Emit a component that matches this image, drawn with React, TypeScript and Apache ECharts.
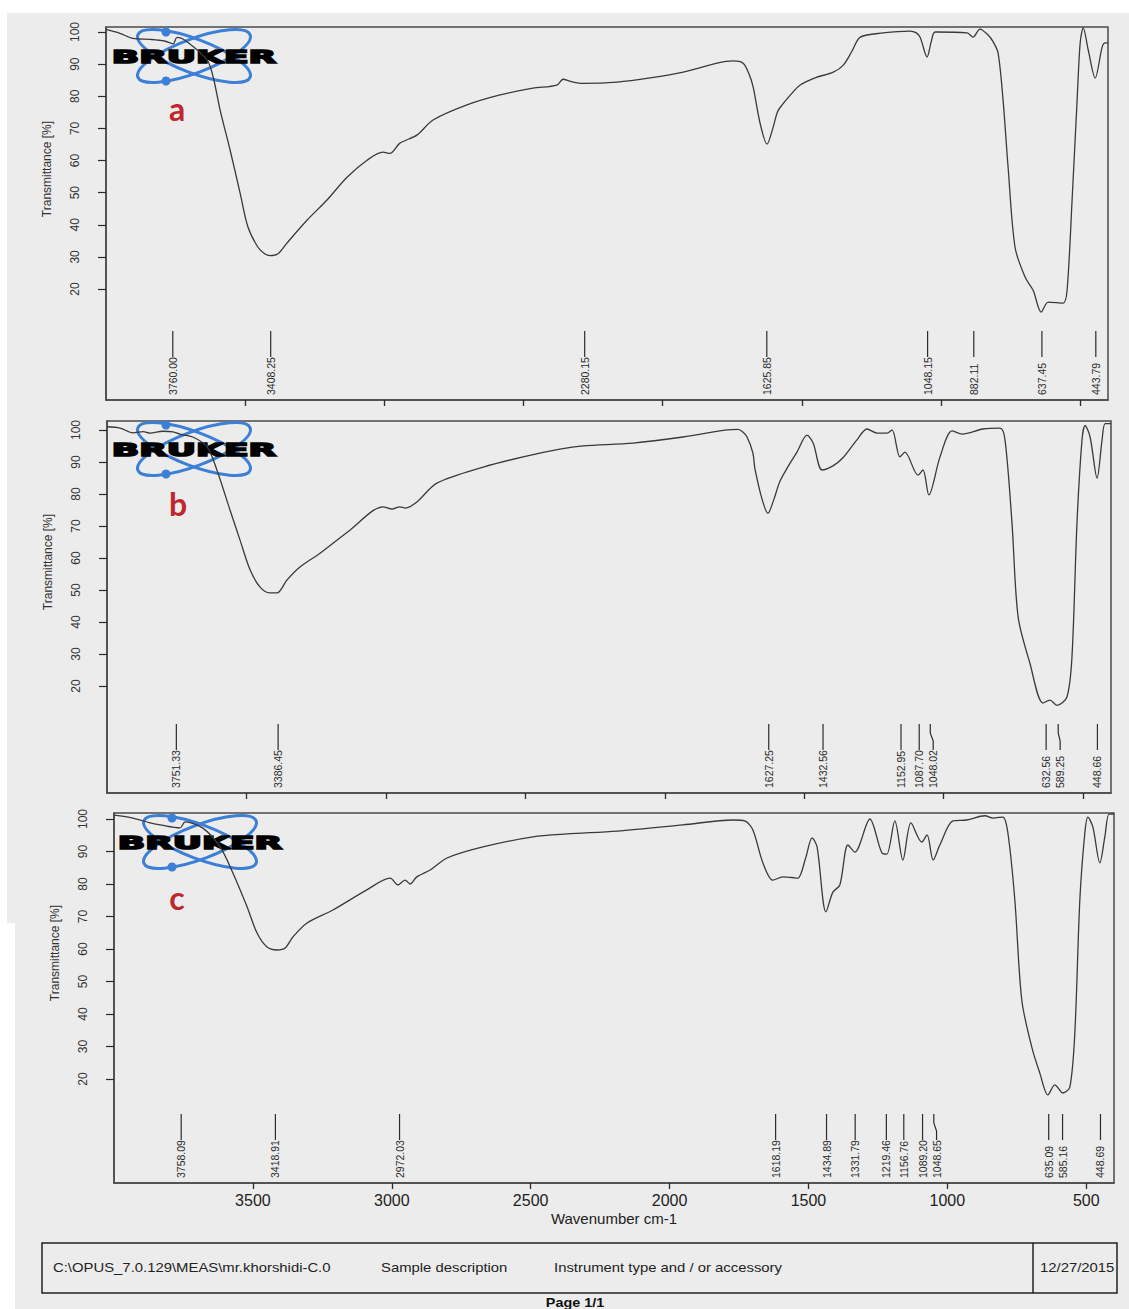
import React, { useEffect, useRef } from "react";
import * as echarts from "echarts";

// ---- Spectrum a ----
const waveA = [4000, 3950, 3903, 3842, 3790, 3759, 3745, 3709, 3637, 3615, 3590, 3554, 3518, 3490, 3454, 3430, 3411, 3382, 3350, 3278, 3206, 3134, 3062, 3005, 2980, 2944, 2883, 2825, 2703, 2584, 2466, 2380, 2358, 2330, 2286, 2164, 2045, 1926, 1805, 1747, 1711, 1690, 1675, 1650, 1625, 1603, 1589, 1578, 1540, 1506, 1450, 1387, 1351, 1320, 1290, 1208, 1111, 1090, 1075, 1050, 1035, 1021, 906, 885, 860, 830, 813, 795, 777, 759, 734, 698, 669, 640, 615, 561, 547, 529, 511, 500, 489, 471, 446, 421, 410, 400];
const transA = [100.8, 99.6, 98, 97.7, 97.2, 96.3, 98.3, 97, 91.3, 86, 75.7, 63.2, 49.8, 39.3, 33, 31, 30.4, 31, 34.3, 41.4, 47.7, 54.8, 60.1, 62.6, 62.2, 65.4, 67.9, 72.6, 77.3, 80.4, 82.5, 83.5, 85.3, 84.6, 84, 84.4, 85.7, 87.5, 90.3, 91, 90.3, 87, 82.9, 71.6, 65.1, 70.4, 74.8, 76.5, 80.5, 83.5, 85.8, 87.5, 89.7, 94, 98.4, 99.7, 100.3, 99.8, 98.4, 92.2, 97, 100, 99.7, 98.4, 100.9, 99, 97, 93.5, 78.8, 58, 33, 23.7, 19.6, 12.8, 15.9, 15.6, 19.6, 47.7, 78.8, 96.6, 101.3, 94.4, 85.7, 95.3, 96.6, 96.6];
const peaksA = [3760.0, 3408.25, 2280.15, 1625.85, 1048.15, 882.11, 637.45, 443.79];

// ---- Spectrum b ----
const waveB = [4000, 3953, 3907, 3870, 3846, 3800, 3763, 3738, 3692, 3641, 3606, 3559, 3523, 3487, 3451, 3416, 3390, 3355, 3308, 3236, 3129, 3010, 2978, 2950, 2930, 2889, 2817, 2651, 2508, 2376, 2293, 2114, 1935, 1777, 1738, 1720, 1705, 1684, 1677, 1650, 1630, 1610, 1587, 1555, 1526, 1490, 1468, 1436, 1397, 1361, 1311, 1275, 1239, 1203, 1185, 1157, 1139, 1092, 1074, 1053, 1013, 970, 934, 859, 798, 780, 755, 733, 691, 644, 619, 594, 558, 540, 522, 504, 493, 475, 450, 432, 421, 400];
const transB = [101, 100.6, 99.1, 99.5, 99, 99.6, 99.4, 98.7, 97.8, 94.7, 87.5, 75, 65.6, 56.3, 50.9, 49.1, 49.1, 53.1, 57.2, 61.5, 68.7, 76, 75.3, 76, 75.6, 77.5, 83.4, 88.4, 91.6, 94, 95, 95.9, 97.8, 100, 100.2, 99.4, 97.8, 92.8, 88, 78, 74, 78, 84, 89, 93.1, 98.4, 95.9, 87.5, 88.8, 91.3, 96.9, 100.3, 99, 99, 100, 91.6, 93.1, 85.9, 87.5, 79.7, 91.6, 99.7, 98.7, 100.3, 100.6, 96.9, 70.9, 41.6, 27.2, 14.7, 15.6, 14, 16.6, 29.1, 70.9, 96.9, 101.4, 97.8, 85, 96.9, 102, 102];
const peaksB = [3751.33, 3386.45, 1627.25, 1432.56, 1152.95, 1087.7, 1048.02, 632.56, 589.25, 448.66];

// ---- Spectrum c ----
const waveC = [4000, 3932, 3870, 3834, 3762, 3744, 3680, 3618, 3572, 3521, 3485, 3449, 3413, 3384, 3356, 3305, 3212, 3090, 3006, 2978, 2952, 2934, 2910, 2862, 2801, 2672, 2492, 2369, 2189, 1952, 1772, 1729, 1700, 1664, 1628, 1592, 1560, 1538, 1510, 1487, 1469, 1437, 1412, 1387, 1358, 1333, 1279, 1235, 1218, 1189, 1160, 1131, 1092, 1073, 1051, 1027, 980, 930, 865, 836, 800, 782, 757, 732, 696, 667, 638, 613, 584, 559, 541, 523, 505, 494, 476, 451, 433, 418, 400];
const transC = [101.2, 100.3, 98.8, 98.2, 97.3, 99.1, 97.2, 91.4, 83.4, 73, 64.9, 60.6, 59.7, 60.3, 63.7, 68, 72, 78.2, 81.8, 79.7, 81.2, 80, 82.2, 84.3, 88, 91.4, 94.5, 95.4, 96.3, 98.2, 99.7, 99.4, 96.6, 86.5, 81.2, 82.2, 82, 81.8, 88, 94.2, 91.4, 71.4, 77.5, 79.7, 92, 89.8, 100, 89.5, 89.2, 99.4, 87.4, 98.8, 92.9, 95.1, 87.4, 92, 99.4, 99.7, 101, 100.3, 100.6, 95.7, 75.1, 44.3, 29.8, 21.8, 15.1, 18.2, 15.7, 17.5, 34.2, 75.1, 95.7, 100.6, 97.5, 86.5, 94.5, 101.5, 101.5];
const peaksC = [3758.09, 3418.91, 2972.03, 1618.19, 1434.89, 1331.79, 1219.46, 1156.76, 1089.2, 1048.65, 635.09, 585.16, 448.69];

// ---- Axes ----
const xTicks = [3500, 3000, 2500, 2000, 1500, 1000, 500];
const yTicks = [20, 30, 40, 50, 60, 70, 80, 90, 100];
const panelLetters = ["a", "b", "c"];

// ---- Footer ----
const footerPath = "C:\\OPUS_7.0.129\\MEAS\\mr.khorshidi-C.0";
const footerSample = "Sample description";
const footerInstrument = "Instrument type and / or accessory";
const footerDate = "12/27/2015";
const pageText = "Page 1/1";

const spectra = [
  { wave: waveA, trans: transA, peaks: peaksA },
  { wave: waveB, trans: transB, peaks: peaksB },
  { wave: waveC, trans: transC, peaks: peaksC },
];

// Pixel layout of the three stacked plot frames
const frames = [
  { left: 106, top: 27, width: 1002, height: 373, yMin: -14.55, yMax: 101.56, logo: [194, 56], letter: [177, 124], titleY: 169 },
  { left: 107, top: 421, width: 1004, height: 372, yMin: -13.4, yMax: 102.8, logo: [194, 449], letter: [178, 519], titleY: 562 },
  { left: 114, top: 813, width: 1000, height: 370, yMin: -12.0, yMax: 101.85, logo: [200, 842], letter: [177, 913], titleY: 953 },
];

const FONT = "'Liberation Sans', Arial, sans-serif";
const INK = "#2b2b2b";
const LOGO_BLUE = "#3b7fd6";
const MIN_LABEL_GAP = 14;

function peakRenderer(peaks: number[]) {
  return (params: any, api: any) => {
    const i = params.dataIndex;
    const xs = peaks.map((w) => api.coord([w, 50])[0]);
    const lx = xs.slice();
    for (let k = 1; k < lx.length; k++) {
      if (lx[k] - lx[k - 1] < MIN_LABEL_GAP) lx[k] = lx[k - 1] + MIN_LABEL_GAP;
    }
    const cs = params.coordSys;
    const bottom = cs.y + cs.height;
    const x = xs[i];
    const tx = lx[i];
    const pts =
      Math.abs(tx - x) < 0.5
        ? [[x, bottom - 69], [x, bottom - 43]]
        : [[x, bottom - 69], [x, bottom - 60], [tx, bottom - 52], [tx, bottom - 43]];
    return {
      type: "group",
      children: [
        { type: "polyline", shape: { points: pts }, style: { stroke: INK, lineWidth: 1.2, fill: null } },
        {
          type: "text",
          x: tx,
          y: bottom - 5,
          rotation: Math.PI / 2,
          style: { text: peaks[i].toFixed(2), fontSize: 10.5, fontFamily: FONT, fill: INK, align: "left", verticalAlign: "middle" },
        },
      ],
    };
  };
}

function logo(cx: number, cy: number) {
  const ring = { cx: 0, cy: 0, rx: 60, ry: 17 };
  return {
    type: "group",
    x: cx,
    y: cy,
    children: [
      { type: "ellipse", shape: ring, rotation: 0.36, style: { fill: "none", stroke: LOGO_BLUE, lineWidth: 3 } },
      { type: "ellipse", shape: ring, rotation: -0.36, style: { fill: "none", stroke: LOGO_BLUE, lineWidth: 3 } },
      { type: "circle", shape: { cx: -28, cy: -24, r: 4.5 }, style: { fill: LOGO_BLUE } },
      { type: "circle", shape: { cx: -28, cy: 25, r: 4.5 }, style: { fill: LOGO_BLUE } },
      {
        type: "text",
        x: 0,
        y: 1,
        scaleX: 2.0,
        style: {
          text: "BRUKER",
          font: "bold 18px 'DejaVu Sans'",
          fill: "#000",
          stroke: "#000",
          lineWidth: 1.6,
          align: "center",
          verticalAlign: "middle",
        },
      },
    ],
  };
}

export default function App() {
  const ref = useRef<HTMLDivElement>(null);

  useEffect(() => {
    if (!ref.current) return;
    const chart = echarts.init(ref.current, undefined, { renderer: "svg" });

    const grid = frames.map((f) => ({
      left: f.left,
      top: f.top,
      width: f.width,
      height: f.height,
      show: true,
      borderColor: "#4a4a4a",
      borderWidth: 1.5,
      backgroundColor: "transparent",
      containLabel: false,
    }));

    const xAxis = frames.map((f, i) => ({
      type: "value",
      gridIndex: i,
      min: 400,
      max: 4000,
      inverse: true,
      splitLine: { show: false },
      axisLine: { show: true, onZero: false, lineStyle: { color: "#4a4a4a", width: 1.5 } },
      axisTick: { show: true, customValues: xTicks, length: 6, lineStyle: { color: INK, width: 1.3 } },
      axisLabel: {
        show: i === 2,
        customValues: xTicks,
        fontSize: 16,
        color: "#222",
        margin: 9,
        fontFamily: FONT,
        formatter: (v: number) => String(v),
      },
      name: i === 2 ? "Wavenumber cm-1" : "",
      nameLocation: "middle",
      nameGap: 28,
      nameTextStyle: { fontSize: 15, color: "#222", fontFamily: FONT },
    }));

    const yAxis = frames.map((f, i) => ({
      type: "value",
      gridIndex: i,
      min: f.yMin,
      max: f.yMax,
      splitLine: { show: false },
      axisLine: { show: true, onZero: false, lineStyle: { color: "#4a4a4a", width: 1.5 } },
      axisTick: { show: true, customValues: yTicks, length: 8, lineStyle: { color: INK, width: 1.2 } },
      axisLabel: { customValues: yTicks, rotate: 90, fontSize: 12, color: "#333", margin: 25, fontFamily: FONT },
    }));

    const series: any[] = [];
    spectra.forEach((s, i) => {
      series.push({
        type: "line",
        xAxisIndex: i,
        yAxisIndex: i,
        data: s.wave.map((w, k) => [w, s.trans[k]]),
        showSymbol: false,
        smooth: 0.3,
        lineStyle: { color: "#3a3a3a", width: 1.3 },
        silent: true,
        z: 3,
      });
      series.push({
        type: "custom",
        xAxisIndex: i,
        yAxisIndex: i,
        data: s.peaks.map((w) => [w, 50]),
        renderItem: peakRenderer(s.peaks),
        silent: true,
        clip: false,
        z: 4,
      });
    });

    const graphic: any[] = [];
    frames.forEach((f, i) => {
      graphic.push(logo(f.logo[0], f.logo[1]));
      graphic.push({
        type: "text",
        x: f.letter[0],
        y: f.letter[1],
        style: { text: panelLetters[i], font: "bold 32px Lato", fill: "#c0272d", align: "center", verticalAlign: "bottom" },
      });
      graphic.push({
        type: "text",
        x: f.left - 59,
        y: f.titleY,
        rotation: Math.PI / 2,
        style: { text: "Transmittance [%]", fontSize: 12, fontFamily: FONT, fill: "#333", align: "center", verticalAlign: "middle" },
      });
    });

    // Footer box with file information
    const footY = 1268;
    const footStyle = { fontSize: 12, fontFamily: FONT, fill: "#222", align: "left", verticalAlign: "middle" };
    graphic.push(
      { type: "rect", shape: { x: 42, y: 1243, width: 1075, height: 50 }, style: { fill: "none", stroke: "#222", lineWidth: 1.5 } },
      { type: "line", shape: { x1: 1033, y1: 1243, x2: 1033, y2: 1293 }, style: { stroke: "#222", lineWidth: 1.5 } },
      { type: "text", x: 53, y: footY, scaleX: 1.24, style: { ...footStyle, text: footerPath } },
      { type: "text", x: 381, y: footY, scaleX: 1.24, style: { ...footStyle, text: footerSample } },
      { type: "text", x: 554, y: footY, scaleX: 1.24, style: { ...footStyle, text: footerInstrument } },
      { type: "text", x: 1040, y: footY, scaleX: 1.24, style: { ...footStyle, text: footerDate } },
      {
        type: "text",
        x: 575,
        y: 1303,
        scaleX: 1.2,
        style: { text: pageText, font: `bold 12px ${FONT}`, fill: "#111", align: "center", verticalAlign: "middle" },
      }
    );

    chart.setOption({
      animation: false,
      backgroundColor: "transparent",
      textStyle: { fontFamily: FONT },
      grid,
      xAxis,
      yAxis,
      series,
      graphic,
    });

    return () => chart.dispose();
  }, []);

  return (
    <div style={{ position: "absolute", left: 0, top: 0, width: 1129, height: 1309, background: "#fff", overflow: "hidden" }}>
      <div style={{ position: "absolute", left: 7, top: 13, width: 1122, height: 1296, background: "#ececec" }} />
      <div style={{ position: "absolute", left: 0, top: 923, width: 15, height: 386, background: "#fff" }} />
      <div ref={ref} style={{ position: "absolute", left: 0, top: 0, width: 1129, height: 1309 }} />
    </div>
  );
}
